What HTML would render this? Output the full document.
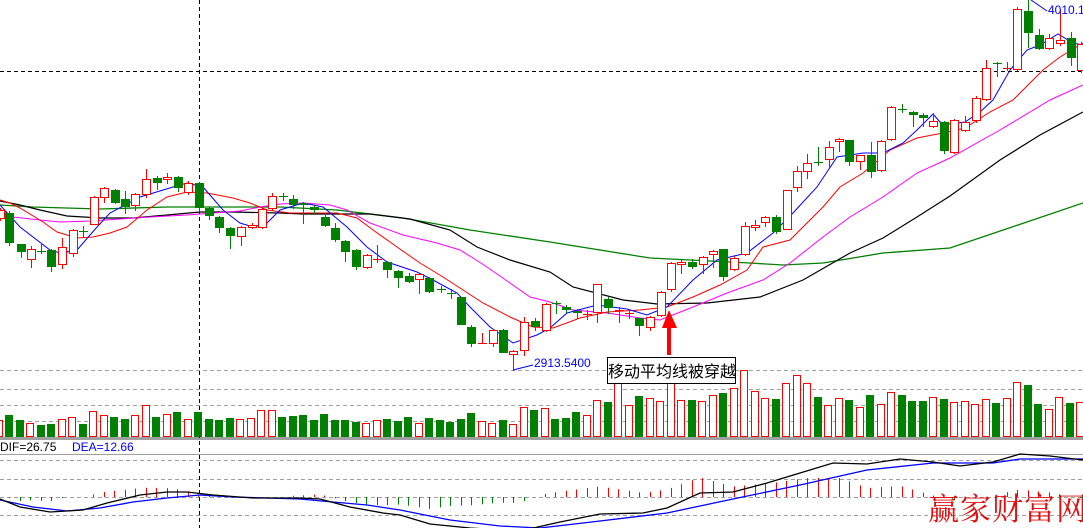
<!DOCTYPE html>
<html><head><meta charset="utf-8"><style>
html,body{margin:0;padding:0;background:#fff;}
#c{position:relative;width:1083px;height:528px;overflow:hidden;background:#fff;font-family:"Liberation Sans","Noto Sans CJK SC",sans-serif;}
svg{position:absolute;left:0;top:0;}
.t{position:absolute;white-space:nowrap;}
</style></head><body><div id="c">
<svg id="s" width="1083" height="528" xmlns="http://www.w3.org/2000/svg"></svg>
<div class="t" style="left:1048px;top:3px;font-size:12px;color:#0000ff;">4010.1</div>
<div class="t" style="left:534px;top:356px;font-size:12px;color:#0000ff;">2913.5400</div>
<div class="t" style="left:607px;top:357px;width:127px;height:25px;border:1px solid #000;background:#fff;font-size:16px;line-height:25px;text-align:center;color:#000;font-family:'Noto Sans CJK SC',sans-serif;">移动平均线被穿越</div>
<div class="t" style="left:0px;top:440px;font-size:12px;color:#000;">DIF=26.75</div>
<div class="t" style="left:72px;top:440px;font-size:12px;color:#0000ff;">DEA=12.66</div>
<div class="t" style="left:928px;top:484px;font-size:31px;letter-spacing:1px;color:#e01010;font-family:'Noto Serif CJK SC',serif;">赢家财富网</div>
</div>
<script>
var NS="http://www.w3.org/2000/svg",S=document.getElementById('s');
function el(n,a){var e=document.createElementNS(NS,n);for(var k in a)e.setAttribute(k,a[k]);S.appendChild(e);return e;}
function hl(y,col,dash,w){el('line',{x1:0,y1:y+.5,x2:1083,y2:y+.5,stroke:col,'stroke-width':w||1,'stroke-dasharray':dash||''});}
[370,389,405,421,460,479,497,515].forEach(function(y){hl(y,'#a0a0a0','4,3');});
hl(71,'#000','4,3');
el('rect',{x:0,y:437,width:1083,height:3,fill:'#a0a0a0'});
hl(454,'#a0a0a0');
el('line',{x1:199.5,y1:0,x2:199.5,y2:528,stroke:'#000','stroke-dasharray':'4,3'});
var R='#ff0000',G='#008000';
// volumes
var V=[[420,'r'],[415,'g'],[420,'g'],[423,'r'],[425,'g'],[424,'g'],[419,'r'],[417,'r'],[424,'g'],[411,'r'],[415,'r'],[417,'g'],[419,'g'],[415,'r'],[405,'r'],[417,'g'],[414,'r'],[412,'g'],[419,'r'],[412,'g'],[419,'g'],[420,'g'],[418,'g'],[419,'r'],[418,'r'],[410,'r'],[410,'r'],[417,'g'],[416,'g'],[415,'g'],[420,'g'],[414,'g'],[420,'g'],[420,'g'],[422,'g'],[423,'r'],[420,'r'],[419,'g'],[421,'g'],
[417,'g'],[423,'r'],[418,'g'],[420,'g'],[422,'g'],[419,'g'],[413,'g'],[421,'r'],[423,'r'],[420,'g'],[424,'r'],[407,'r'],[410,'g'],[408,'r'],[419,'g'],[418,'g'],[412,'g'],[415,'r'],[400,'r']];
var V2=[402,382,405,396,398,401,382,400,400,401,395,393,388,370,391,398,399,383,375,383,397,405,398,400,407,395,404,392,395,401,401,397,399,402,401,404,399,403,398,382,385,404,409,397,403,402];
var C2='grrgrrrrgrrgrrrrgrrrgrrgrgrrgggrgrrrrgrrggrrgr';
for(var i=0;i<V2.length;i++)V.push([V2[i],C2[i]]);
V.forEach(function(v,k){var x=-5.5+10.5*k;var t=v[0];
 if(v[1]=='g')el('rect',{x:Math.round(x),y:t,width:8,height:437-t,fill:G});
 else el('rect',{x:Math.round(x)+.5,y:t+.5,width:7,height:436-t,fill:'#fff',stroke:R});});
function pl(pts,col,w){el('polyline',{points:pts.map(function(p){return p.join(',')}).join(' '),fill:'none',stroke:col,'stroke-width':w||1});}
// MAs
pl([[0,205],[33,207],[100,209],[167,207],[233,207],[280,207],[337,210],[403,218],[470,230],[550,242],[650,258],[750,263],[783,265],[823,263],[883,253],[950,248],[1083,203]],G,1.3);
pl([[0,201],[20,205],[40,210],[67,216],[100,218],[133,218],[167,215],[200,212],[233,212],[280,213],[303,214],[370,214],[410,219],[450,230],[477,247],[510,260],[550,272],[573,287],[623,300],[657,304],[707,303],[760,297],[803,280],[850,253],[883,238],[917,217],[950,196],[1000,160],[1040,135],[1083,112]],'#000',1.2);
pl([[0,209],[13,217],[40,220],[60,222],[90,221],[120,219],[150,217],[187,215],[213,213],[240,211],[260,207],[280,204],[303,203],[330,205],[347,210],[370,223],[403,235],[437,243],[460,250],[473,258],[487,267],[510,283],[530,297],[550,302],[573,310],[607,313],[640,318],[660,320],[693,307],[727,293],[763,280],[790,263],[823,237],[850,217],[883,197],[917,173],[950,158],[1000,130],[1050,100],[1083,85]],'#ff00ff');
pl([[0,200],[10,203],[20,208],[43,222],[57,232],[77,238],[93,237],[110,233],[127,227],[147,210],[167,197],[187,192],[207,193],[233,198],[250,203],[267,210],[290,213],[337,213],[357,218],[373,230],[397,247],[420,263],[443,277],[463,290],[483,303],[510,317],[533,327],[553,328],[580,318],[607,312],[640,310],[667,307],[693,297],[720,285],[747,270],[763,247],[790,240],[823,207],[840,187],[863,173],[890,150],[917,138],[943,133],[965,128],[990,112],[1013,100],[1043,70],[1060,57],[1083,43]],R);
pl([[0,205],[20,227],[50,250],[60,253],[77,250],[97,227],[110,213],[140,197],[173,187],[187,183],[203,187],[223,210],[240,223],[253,227],[267,223],[280,210],[303,203],[323,207],[347,227],[367,247],[387,262],[417,272],[433,280],[457,293],[470,307],[490,327],[513,343],[537,335],[550,328],[567,313],[597,305],[627,309],[647,315],[667,307],[693,280],[717,260],[747,253],[773,233],[793,213],[817,187],[837,157],[850,155],[863,153],[883,153],[903,143],[917,130],[933,114],[940,122],[950,124],[965,122],[980,112],[993,100],[1010,70],[1027,50],[1040,45],[1058,34],[1073,43],[1083,45]],'#0000ff');
el('line',{x1:1031,y1:0,x2:1047,y2:11,stroke:'#0000ff'});
el('line',{x1:513,y1:370,x2:533,y2:365,stroke:'#0000ff'});
// candles
var K=[[0,210,218,208,220,'r'],[9,213,242,211,245,'g'],[21,244,251,244,257,'g'],[31,249,259,246,267,'r'],[41,251,251,243,253,'g'],[51,250,266,249,271,'g'],[62,247,264,238,268,'r'],[73,230,253,229,256,'r'],[83,231,231,226,236,'g'],[94,197,224,196,224,'r'],[104,188,197,187,202,'r'],[115,190,202,189,203,'g'],[125,199,206,191,213,'g'],[135,194,205,193,210,'r'],[146,179,194,169,197,'r'],[157,178,182,176,189,'g'],[167,177,179,173,183,'r'],[178,177,187,176,191,'g'],[188,183,192,181,194,'r'],[199,183,207,182,211,'g'],[209,208,215,207,219,'g'],[219,217,227,216,232,'g'],[230,228,235,227,248,'g'],[241,227,236,226,245,'r'],[252,225,227,223,228,'r'],[262,209,227,208,228,'r'],[272,196,208,193,210,'r'],[283,196,196,193,200,'g'],[293,199,204,195,208,'g'],[303,203,204,202,223,'g'],[314,207,209,205,213,'g'],[325,217,225,213,226,'g'],[335,228,239,223,241,'g'],[345,241,251,240,261,'g'],[356,250,266,249,269,'g'],[367,255,267,254,268,'r'],[377,259,259,245,262,'r'],[387,262,269,261,277,'g'],[398,271,277,270,287,'g'],[409,276,281,273,282,'g'],[419,274,279,273,293,'r'],[429,278,291,277,292,'g'],[441,289,289,286,292,'g'],[451,293,293,289,298,'g'],[461,297,324,297,324,'g'],[471,327,343,325,346,'g'],[482,343,343,333,343,'r'],[493,330,343,329,346,'r'],[503,330,352,329,352,'g'],[513,351,354,350,370,'r'],[524,322,350,317,355,'r'],[535,321,326,318,330,'g'],[546,304,330,303,331,'r'],[556,303,303,301,313,'g'],[566,307,309,305,312,'g'],[577,311,312,309,318,'g'],[587,314,314,310,319,'r'],[597,284,312,284,322,'r'],[608,299,307,297,313,'g'],[619,310,310,307,322,'r'],[629,313,313,310,318,'r'],[639,318,325,318,335,'g'],[650,317,327,316,330,'r'],[661,292,315,291,316,'r'],[671,263,289,262,291,'r'],[681,262,264,260,273,'r'],[692,262,266,259,268,'g'],[703,257,264,256,273,'r'],[713,251,254,250,267,'r'],[723,249,276,249,280,'g'],[734,258,269,256,270,'r'],[745,226,254,222,255,'r'],[755,225,227,220,230,'r'],[765,217,222,216,226,'r'],[776,217,231,215,233,'g'],[787,190,229,190,229,'r'],[797,171,187,166,191,'r'],[807,163,171,154,178,'r'],[818,162,162,147,165,'g'],[829,147,159,141,167,'r'],[839,139,141,138,151,'r'],[849,140,161,140,165,'g'],[860,155,161,155,169,'r'],[871,155,171,142,177,'g'],[881,141,170,140,171,'r'],[891,107,139,106,140,'r'],[902,109,109,104,112,'g'],[913,112,114,111,126,'g'],[923,115,117,113,126,'g'],[933,121,126,113,127,'r'],[944,122,150,121,153,'g'],[954,120,152,119,153,'r'],[965,122,130,116,131,'r'],[976,98,120,96,122,'r'],[986,68,99,60,100,'r'],[997,63,63,62,76,'g'],[1007,68,68,62,70,'r'],[1017,9,69,7,70,'r'],[1028,11,32,0,47,'g'],[1039,35,48,29,49,'g'],[1049,38,48,34,49,'r'],[1060,40,43,10,45,'r'],[1071,38,57,32,65,'g'],[1081,44,70,42,72,'r']];
K.forEach(function(c){var x=c[0],col=c[5]=='r'?R:G;
 el('line',{x1:x+.5,y1:c[3],x2:x+.5,y2:c[4]+1,stroke:col});
 var h=c[2]-c[1];
 if(h<2){el('rect',{x:x-4,y:c[1],width:9,height:Math.max(1,h+1),fill:col});}
 else if(c[5]=='g')el('rect',{x:x-4,y:c[1],width:9,height:h+1,fill:G});
 else el('rect',{x:x-3.5,y:c[1]+.5,width:8,height:h,fill:'#fff',stroke:R});});
// MACD
var DIF=[[0,499],[20,507],[50,512],[83,510],[107,503],[140,495],[167,492],[187,492],[213,495],[253,498],[300,498],[320,499],[350,507],[383,513],[400,515],[430,524],[470,528],[520,531],[560,522],[600,514],[643,513],[667,508],[700,493],[733,492],[767,483],[800,473],[833,463],[867,464],[900,459],[933,462],[960,466],[993,462],[1020,454],[1050,456],[1083,460]];
var DEA=[[0,500],[33,507],[67,511],[100,508],[133,502],[167,498],[200,495],[233,497],[300,499],[333,502],[367,505],[400,510],[450,520],[500,526],[540,528],[600,521],[667,513],[733,499],[800,485],[867,470],[933,463],[993,463],[1020,459],[1083,459]];
function ip(L,x){for(var i=0;i<L.length-1;i++)if(x>=L[i][0]&&x<=L[i+1][0]){var t=(x-L[i][0])/(L[i+1][0]-L[i][0]);return L[i][1]+t*(L[i+1][1]-L[i][1]);}return L[L.length-1][1];}
for(var k=0;k<104;k++){var x=Math.round(-1.5+10.5*k)+.5;var d=(ip(DEA,x)-ip(DIF,x))*1.5;
 if(Math.abs(d)<1)continue;
 if(d>0)el('line',{x1:x,y1:497,x2:x,y2:497-Math.min(d,19),stroke:R});
 else el('line',{x1:x,y1:497,x2:x,y2:497-d,stroke:G});}
pl(DEA,'#0000ff',1.3);pl(DIF,'#000',1.3);
// arrow
el('polygon',{points:'669,310 662,328 667,328 667,355 671,355 671,328 677,328',fill:'#ff0000'});
</script>
</body></html>
